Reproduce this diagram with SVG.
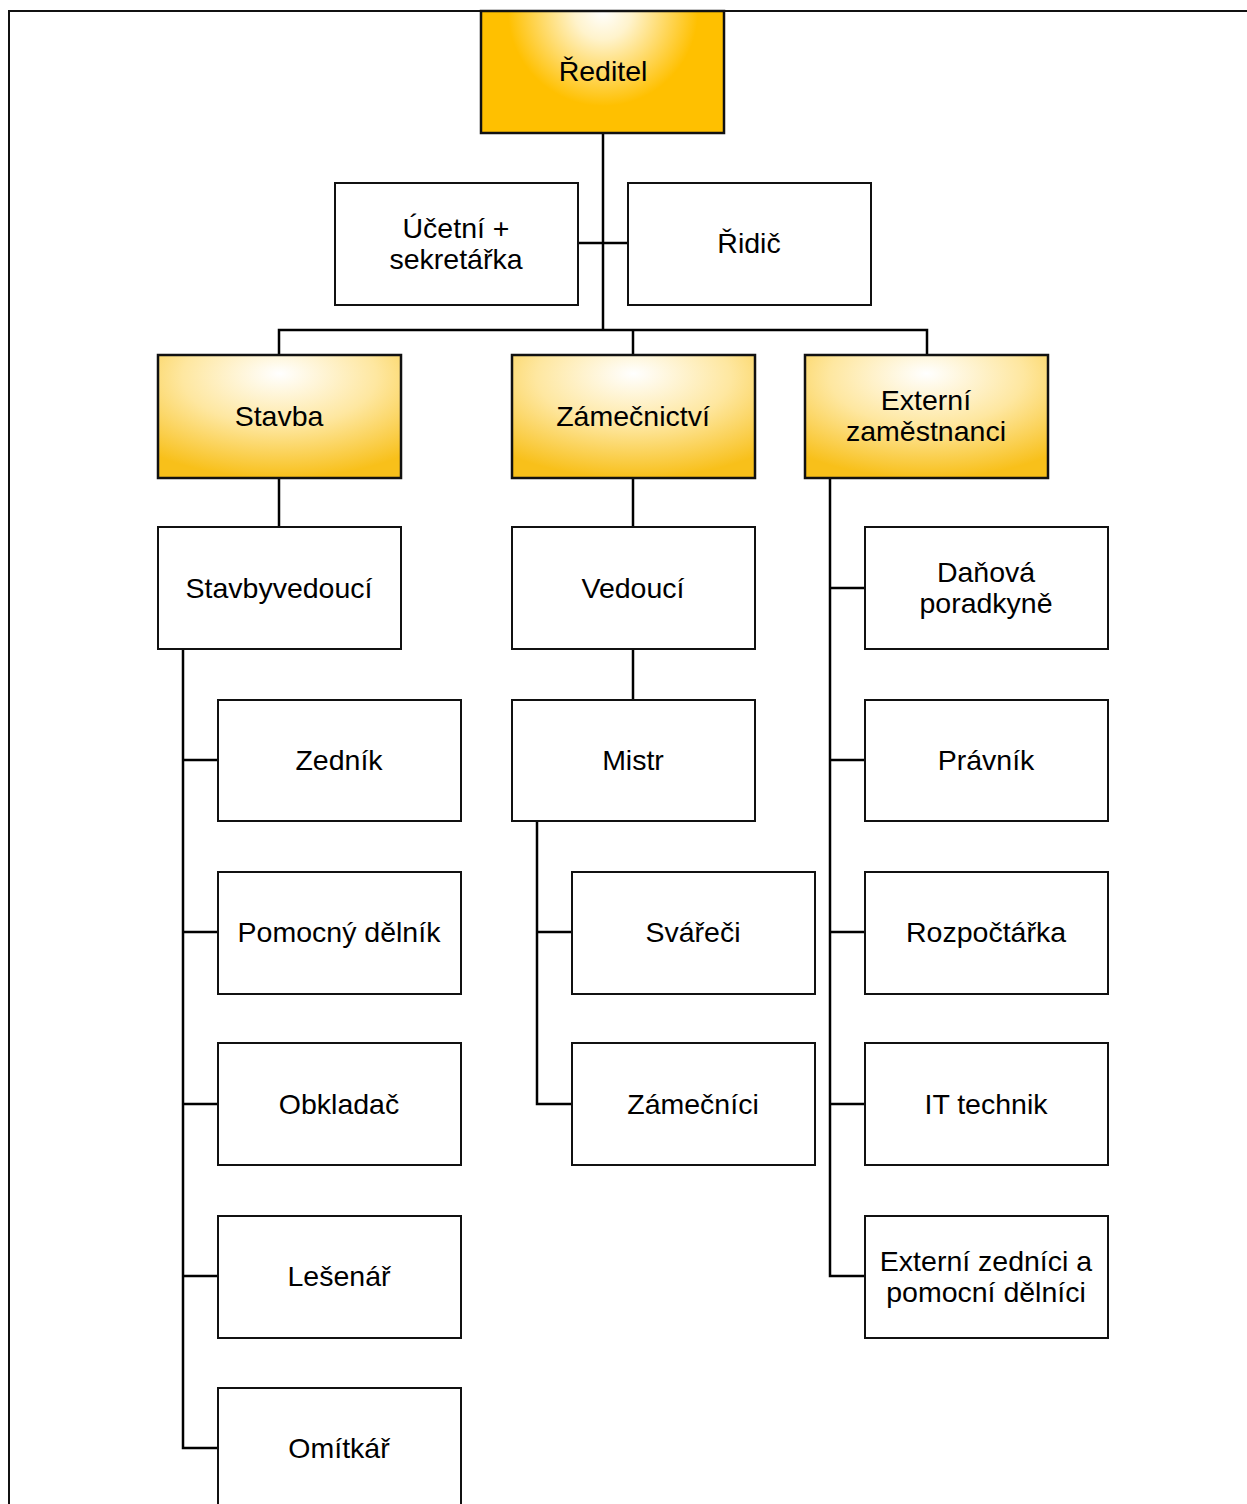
<svg xmlns="http://www.w3.org/2000/svg" width="1247" height="1504" viewBox="0 0 1247 1504">
<defs>
<radialGradient id="gTop" gradientUnits="userSpaceOnUse" cx="603" cy="11" r="95">
<stop offset="0" stop-color="#FFFFFF"/>
<stop offset="0.3" stop-color="#FFF3CC"/>
<stop offset="1" stop-color="#FFC000"/>
</radialGradient>
<radialGradient id="gDept" cx="0.5" cy="0.2" r="0.8" fx="0.5" fy="0.15">
<stop offset="0" stop-color="#FFFFFF"/>
<stop offset="0.5" stop-color="#FEE7A0"/>
<stop offset="1" stop-color="#F8C01A"/>
</radialGradient>
</defs>
<style>
.box{fill:#FFFFFF;stroke:#111111;stroke-width:2}
.top{fill:url(#gTop);stroke:#111111;stroke-width:2.5}
.dept{fill:url(#gDept);stroke:#111111;stroke-width:2.5}
.lbl{font-family:"Liberation Sans",Arial,sans-serif;font-size:28.5px;fill:#000000;text-anchor:middle;dominant-baseline:central}
.con{fill:none;stroke:#000000;stroke-width:2.5}
</style>
<rect width="1247" height="1504" fill="#FFFFFF"/>
<path d="M9,1504 V11 H1247" fill="none" stroke="#111111" stroke-width="2"/>
<g id="connectors">
<path class="con" d="M603,133 V330"/>
<path class="con" d="M578,243 H628"/>
<path class="con" d="M279,355 V330 H927 V355"/>
<path class="con" d="M633,330 V355" stroke="#2F3A4A"/>
<path class="con" d="M279,478 V527"/>
<path class="con" d="M633,478 V527"/>
<path class="con" d="M633,649 V700"/>
<path class="con" d="M183,649 V1448 H218 M183,760 H218 M183,932 H218 M183,1104 H218 M183,1276 H218"/>
<path class="con" d="M537,821 V1104 H572 M537,932 H572"/>
<path class="con" d="M830,478 V1276 H865 M830,588 H865 M830,760 H865 M830,932 H865 M830,1104 H865"/>
</g>
<g id="reditel"><rect class="top" x="481" y="11" width="243" height="122"/><text class="lbl" x="603" y="71">Ředitel</text></g>
<g id="ucetni"><rect class="box" x="335" y="183" width="243" height="122"/><text class="lbl" x="456" y="228">Účetní +</text><text class="lbl" x="456" y="259">sekretářka</text></g>
<g id="ridic"><rect class="box" x="628" y="183" width="243" height="122"/><text class="lbl" x="749" y="243">Řidič</text></g>
<g id="stavba"><rect class="dept" x="158" y="355" width="243" height="123"/><text class="lbl" x="279" y="416">Stavba</text></g>
<g id="zamecnictvi"><rect class="dept" x="512" y="355" width="243" height="123"/><text class="lbl" x="633" y="416">Zámečnictví</text></g>
<g id="externi"><rect class="dept" x="805" y="355" width="243" height="123"/><text class="lbl" x="926" y="400">Externí</text><text class="lbl" x="926" y="431">zaměstnanci</text></g>
<g id="stavbyvedouci"><rect class="box" x="158" y="527" width="243" height="122"/><text class="lbl" x="279" y="588">Stavbyvedoucí</text></g>
<g id="vedouci"><rect class="box" x="512" y="527" width="243" height="122"/><text class="lbl" x="633" y="588">Vedoucí</text></g>
<g id="mistr"><rect class="box" x="512" y="700" width="243" height="121"/><text class="lbl" x="633" y="760">Mistr</text></g>
<g id="svareci"><rect class="box" x="572" y="872" width="243" height="122"/><text class="lbl" x="693" y="932">Svářeči</text></g>
<g id="zamecnici"><rect class="box" x="572" y="1043" width="243" height="122"/><text class="lbl" x="693" y="1104">Zámečníci</text></g>
<g id="zednik"><rect class="box" x="218" y="700" width="243" height="121"/><text class="lbl" x="339" y="760">Zedník</text></g>
<g id="pomocny"><rect class="box" x="218" y="872" width="243" height="122"/><text class="lbl" x="339" y="932">Pomocný dělník</text></g>
<g id="obkladac"><rect class="box" x="218" y="1043" width="243" height="122"/><text class="lbl" x="339" y="1104">Obkladač</text></g>
<g id="lesenar"><rect class="box" x="218" y="1216" width="243" height="122"/><text class="lbl" x="339" y="1276">Lešenář</text></g>
<g id="omitkar"><rect class="box" x="218" y="1388" width="243" height="130"/><text class="lbl" x="339" y="1448">Omítkář</text></g>
<g id="danova"><rect class="box" x="865" y="527" width="243" height="122"/><text class="lbl" x="986" y="572">Daňová</text><text class="lbl" x="986" y="603">poradkyně</text></g>
<g id="pravnik"><rect class="box" x="865" y="700" width="243" height="121"/><text class="lbl" x="986" y="760">Právník</text></g>
<g id="rozpoctarka"><rect class="box" x="865" y="872" width="243" height="122"/><text class="lbl" x="986" y="932">Rozpočtářka</text></g>
<g id="ittechnik"><rect class="box" x="865" y="1043" width="243" height="122"/><text class="lbl" x="986" y="1104">IT technik</text></g>
<g id="externizednici"><rect class="box" x="865" y="1216" width="243" height="122"/><text class="lbl" x="986" y="1261">Externí zedníci a</text><text class="lbl" x="986" y="1292">pomocní dělníci</text></g>
</svg>
